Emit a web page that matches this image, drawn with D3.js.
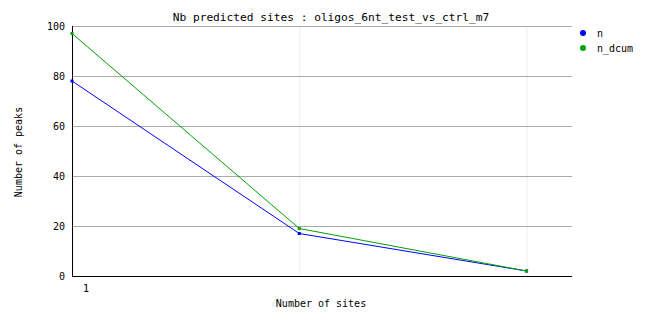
<!DOCTYPE html>
<html>
<head>
<meta charset="utf-8">
<script src="https://cdn.jsdelivr.net/npm/d3@7"></script>
<style>
  body { margin: 0; background: #fff; }
  text { font-family: "DejaVu Sans Mono", monospace; fill: #000; }
</style>
</head>
<body>
<svg></svg>
<script>
var sites = [1, 2, 3];
var nValues = [78, 17, 2];
var nDcumValues = [97, 19, 2];
var seriesNames = ["n", "n_dcum"];
var seriesColors = ["#0000ff", "#00a000"];
var yTicks = [0, 20, 40, 60, 80, 100];

function draw() {
    var width = 662, height = 328,
        left = 72, right = 572, top = 26, bottom = 276;

    var svg = d3.select("svg")
        .attr("width", width)
        .attr("height", height);

    var x = d3.scaleLinear().domain([1, 3.2]).range([left, right]);
    var y = d3.scaleLinear().domain([0, 100]).range([bottom, top]);

    // vertical grid
    svg.append("g").selectAll("line")
        .data(sites.slice(1))
        .enter().append("line")
        .attr("x1", function(d) { return x(d) + 0.5; })
        .attr("x2", function(d) { return x(d) + 0.5; })
        .attr("y1", top)
        .attr("y2", bottom)
        .attr("stroke", "#eeeeee");

    // horizontal grid
    svg.append("g").selectAll("line")
        .data(yTicks.slice(1))
        .enter().append("line")
        .attr("x1", left)
        .attr("x2", right)
        .attr("y1", function(d) { return Math.round(y(d)) + 0.5; })
        .attr("y2", function(d) { return Math.round(y(d)) + 0.5; })
        .attr("stroke", "#aaaaaa");

    // axes
    svg.append("line")
        .attr("x1", left + 0.5).attr("x2", left + 0.5)
        .attr("y1", top).attr("y2", bottom + 1)
        .attr("stroke", "#000");
    svg.append("line")
        .attr("x1", left).attr("x2", right)
        .attr("y1", bottom + 0.5).attr("y2", bottom + 0.5)
        .attr("stroke", "#000");

    // y tick labels
    svg.append("g").selectAll("text")
        .data(yTicks)
        .enter().append("text")
        .attr("x", 65)
        .attr("y", function(d) { return y(d) + 4; })
        .attr("text-anchor", "end")
        .attr("font-size", 10)
        .text(function(d) { return d; });

    // x tick label
    svg.append("text")
        .attr("x", x(1) + 14)
        .attr("y", 292)
        .attr("text-anchor", "middle")
        .attr("font-size", 10)
        .text("1");

    var line = d3.line()
        .x(function(d, i) { return x(sites[i]); })
        .y(function(d) { return y(d); });

    [nValues, nDcumValues].forEach(function(vals, k) {
        svg.append("path")
            .datum(vals)
            .attr("d", line)
            .attr("fill", "none")
            .attr("stroke", seriesColors[k])
            .attr("stroke-width", 1);
        svg.append("g").selectAll("rect")
            .data(vals)
            .enter().append("rect")
            .attr("x", function(d, i) { return x(sites[i]) - 1.5; })
            .attr("y", function(d) { return y(d) - 1.5; })
            .attr("width", 3)
            .attr("height", 3)
            .attr("fill", seriesColors[k]);
    });

    // title
    svg.append("text")
        .attr("x", 331)
        .attr("y", 21)
        .attr("text-anchor", "middle")
        .attr("font-size", 11.2)
        .text("Nb predicted sites : oligos_6nt_test_vs_ctrl_m7");

    // axis titles
    svg.append("text")
        .attr("x", 321)
        .attr("y", 307)
        .attr("text-anchor", "middle")
        .attr("font-size", 10)
        .text("Number of sites");
    svg.append("text")
        .attr("transform", "translate(22,152) rotate(-90)")
        .attr("text-anchor", "middle")
        .attr("font-size", 10)
        .text("Number of peaks");

    // legend
    var legend = svg.append("g").selectAll("g")
        .data(seriesNames)
        .enter().append("g")
        .attr("transform", function(d, i) { return "translate(583," + (33 + i * 15) + ")"; });
    legend.append("circle")
        .attr("r", 3)
        .attr("fill", function(d, i) { return seriesColors[i]; });
    legend.append("text")
        .attr("x", 14)
        .attr("y", 4)
        .attr("font-size", 10)
        .text(function(d) { return d; });
}
draw();
</script>
</body>
</html>
